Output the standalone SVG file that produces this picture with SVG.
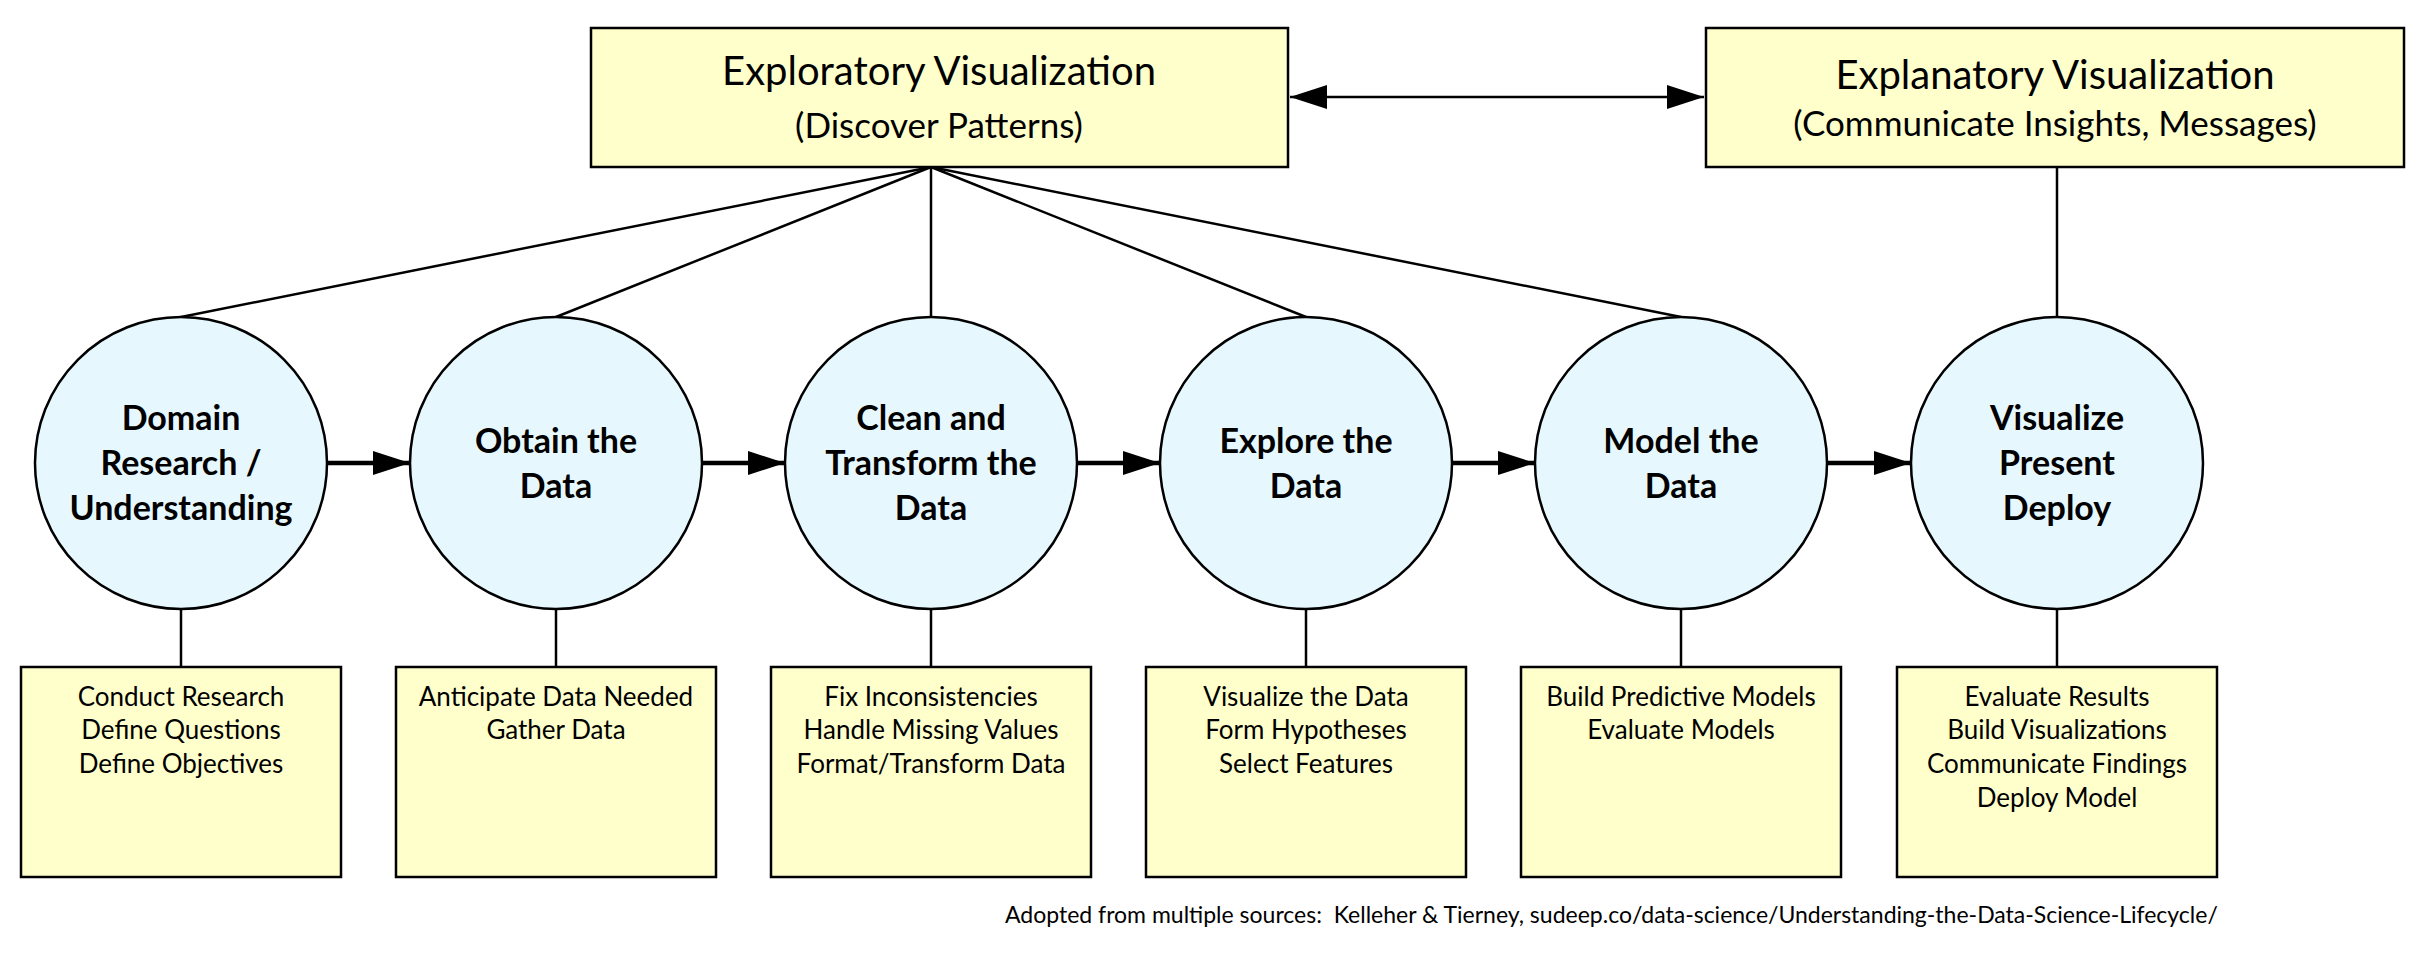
<svg xmlns="http://www.w3.org/2000/svg" width="2421" height="960" viewBox="0 0 2421 960">
<style>
.bx{fill:#FFFFCC;stroke:#000;stroke-width:2.5}
.cr{fill:#E6F8FE;stroke:#000;stroke-width:2.5}
.ln{stroke:#000;stroke-width:2.5;fill:none}
.ar{stroke:#000;stroke-width:4.5;fill:none}
.t{font-family:Lato,"Liberation Sans",sans-serif;text-anchor:middle;fill:#000}
.h1{font-size:40px}
.h2{font-size:35px}
.c{font-size:34px;font-weight:bold}
.s{font-size:26px}
.f{font-family:Lato,"Liberation Sans",sans-serif;font-size:23px;fill:#000}
</style>
<defs>
<marker id="ah" viewBox="0 0 10 10" refX="10" refY="5" markerWidth="37" markerHeight="24" markerUnits="userSpaceOnUse" orient="auto-start-reverse" preserveAspectRatio="none">
<path d="M0,0 L10,5 L0,10 Z" fill="#000"/>
</marker>
</defs>
<g id="connectors">
<line class="ln" x1="931" y1="167" x2="181" y2="317"/>
<line class="ln" x1="931" y1="167" x2="556" y2="317"/>
<line class="ln" x1="931" y1="167" x2="931" y2="317"/>
<line class="ln" x1="931" y1="167" x2="1306" y2="317"/>
<line class="ln" x1="931" y1="167" x2="1681" y2="317"/>
<line class="ln" x1="2057" y1="167" x2="2057" y2="317"/>
<line class="ln" x1="1290" y1="97" x2="1704" y2="97" marker-start="url(#ah)" marker-end="url(#ah)"/>
<line class="ar" x1="327" y1="463" x2="410" y2="463" marker-end="url(#ah)"/>
<line class="ar" x1="702" y1="463" x2="785" y2="463" marker-end="url(#ah)"/>
<line class="ar" x1="1077" y1="463" x2="1160" y2="463" marker-end="url(#ah)"/>
<line class="ar" x1="1452" y1="463" x2="1535" y2="463" marker-end="url(#ah)"/>
<line class="ar" x1="1827" y1="463" x2="1911" y2="463" marker-end="url(#ah)"/>
<line class="ln" x1="181" y1="609" x2="181" y2="667"/>
<line class="ln" x1="556" y1="609" x2="556" y2="667"/>
<line class="ln" x1="931" y1="609" x2="931" y2="667"/>
<line class="ln" x1="1306" y1="609" x2="1306" y2="667"/>
<line class="ln" x1="1681" y1="609" x2="1681" y2="667"/>
<line class="ln" x1="2057" y1="609" x2="2057" y2="667"/>
</g>
<g id="exploratory">
<rect class="bx" x="591" y="28" width="697" height="139"/>
<text class="t h1" x="939" y="85">Exploratory Visualization</text>
<text class="t h2" x="939" y="138">(Discover Patterns)</text>
</g>
<g id="explanatory">
<rect class="bx" x="1706" y="28" width="698" height="139"/>
<text class="t h1" x="2055" y="89">Explanatory Visualization</text>
<text class="t h2" x="2055" y="136">(Communicate Insights, Messages)</text>
</g>
<g id="c1"><circle class="cr" cx="181" cy="463" r="146"/>
<text class="t c" x="181" y="430">Domain</text><text class="t c" x="181" y="475">Research /</text><text class="t c" x="181" y="520">Understanding</text></g>
<g id="c2"><circle class="cr" cx="556" cy="463" r="146"/>
<text class="t c" x="556" y="453">Obtain the</text><text class="t c" x="556" y="498">Data</text></g>
<g id="c3"><circle class="cr" cx="931" cy="463" r="146"/>
<text class="t c" x="931" y="430">Clean and</text><text class="t c" x="931" y="475">Transform the</text><text class="t c" x="931" y="520">Data</text></g>
<g id="c4"><circle class="cr" cx="1306" cy="463" r="146"/>
<text class="t c" x="1306" y="453">Explore the</text><text class="t c" x="1306" y="498">Data</text></g>
<g id="c5"><circle class="cr" cx="1681" cy="463" r="146"/>
<text class="t c" x="1681" y="453">Model the</text><text class="t c" x="1681" y="498">Data</text></g>
<g id="c6"><circle class="cr" cx="2057" cy="463" r="146"/>
<text class="t c" x="2057" y="430">Visualize</text><text class="t c" x="2057" y="475">Present</text><text class="t c" x="2057" y="520">Deploy</text></g>
<g id="b1"><rect class="bx" x="21" y="667" width="320" height="210"/>
<text class="t s" x="181" y="706">Conduct Research</text><text class="t s" x="181" y="739">Define Questions</text><text class="t s" x="181" y="773">Define Objectives</text></g>
<g id="b2"><rect class="bx" x="396" y="667" width="320" height="210"/>
<text class="t s" x="556" y="706">Anticipate Data Needed</text><text class="t s" x="556" y="739">Gather Data</text></g>
<g id="b3"><rect class="bx" x="771" y="667" width="320" height="210"/>
<text class="t s" x="931" y="706">Fix Inconsistencies</text><text class="t s" x="931" y="739">Handle Missing Values</text><text class="t s" x="931" y="773">Format/Transform Data</text></g>
<g id="b4"><rect class="bx" x="1146" y="667" width="320" height="210"/>
<text class="t s" x="1306" y="706">Visualize the Data</text><text class="t s" x="1306" y="739">Form Hypotheses</text><text class="t s" x="1306" y="773">Select Features</text></g>
<g id="b5"><rect class="bx" x="1521" y="667" width="320" height="210"/>
<text class="t s" x="1681" y="706">Build Predictive Models</text><text class="t s" x="1681" y="739">Evaluate Models</text></g>
<g id="b6"><rect class="bx" x="1897" y="667" width="320" height="210"/>
<text class="t s" x="2057" y="706">Evaluate Results</text><text class="t s" x="2057" y="739">Build Visualizations</text><text class="t s" x="2057" y="773">Communicate Findings</text><text class="t s" x="2057" y="807">Deploy Model</text></g>
<text class="f" x="1005" y="923" xml:space="preserve">Adopted from multiple sources:  Kelleher &amp; Tierney, sudeep.co/data-science/Understanding-the-Data-Science-Lifecycle/</text>
</svg>
